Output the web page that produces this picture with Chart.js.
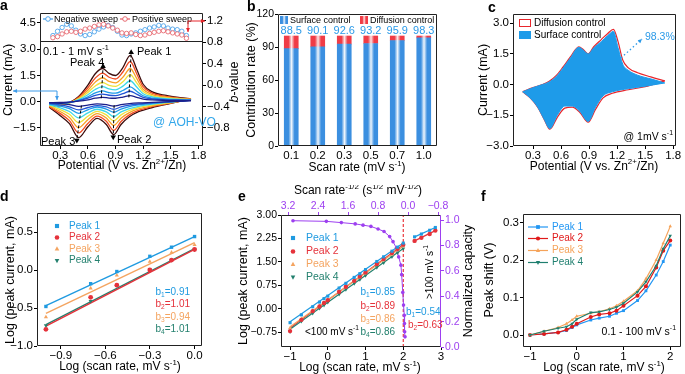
<!DOCTYPE html>
<html>
<head>
<meta charset="utf-8">
<script src="https://cdn.jsdelivr.net/npm/chart.js@4.4.1/dist/chart.umd.min.js"></script>
<style>
  html, body { margin: 0; padding: 0; background: #fff; }
  #wrap { position: relative; width: 685px; height: 374px; overflow: hidden; background: #fff; }
  canvas { position: absolute; }
</style>
</head>
<body>
<div id="wrap">
  <canvas id="cA"></canvas>
  <canvas id="cB"></canvas>
  <canvas id="cC"></canvas>
  <canvas id="cD"></canvas>
  <canvas id="cE"></canvas>
  <canvas id="cF"></canvas>
</div>
<script>
/* -----------------------------
    DATA
------------------------------ */
// panel a: CV curves 0.1 - 1 mV/s (inner -> outer)
const cvColors = ['#1b1f8a', '#2255d6', '#1e9be8', '#3fd8e6', '#eee23a', '#f8a024', '#f04a23', '#3b0b0b'];
const aV = [0.18, 0.3, 0.4, 0.5, 0.6, 0.68, 0.76, 0.83, 0.9, 0.98, 1.06, 1.13, 1.2, 1.3, 1.45, 1.6, 1.72];
const cV = [0.18, 0.3, 0.4, 0.5, 0.6, 0.7, 0.8, 0.88, 0.96, 1.05, 1.15, 1.3, 1.5, 1.72];
const upNavy   = [-0.05, -0.04, -0.02, 0.03, 0.11, 0.2, 0.25, 0.21, 0.2, 0.26, 0.35, 0.25, 0.15, 0.1, 0.08, 0.07, 0.06];
const upBlue   = [-0.09, -0.06, -0.03, 0.06, 0.2, 0.36, 0.44, 0.37, 0.35, 0.46, 0.6, 0.43, 0.25, 0.16, 0.11, 0.09, 0.08];
const upLBlue  = [-0.12, -0.08, -0.04, 0.08, 0.28, 0.5, 0.62, 0.52, 0.49, 0.64, 0.85, 0.6, 0.34, 0.21, 0.14, 0.11, 0.09];
const upCyan   = [-0.16, -0.11, -0.05, 0.12, 0.4, 0.7, 0.86, 0.73, 0.68, 0.89, 1.2, 0.84, 0.46, 0.28, 0.18, 0.14, 0.11];
const upYellow = [-0.2, -0.14, -0.06, 0.16, 0.53, 0.9, 1.1, 0.94, 0.88, 1.14, 1.55, 1.08, 0.58, 0.34, 0.22, 0.16, 0.13];
const upOrange = [-0.24, -0.17, -0.07, 0.2, 0.66, 1.12, 1.37, 1.16, 1.08, 1.4, 1.9, 1.33, 0.71, 0.41, 0.26, 0.18, 0.14];
const upRed    = [-0.28, -0.2, -0.07, 0.25, 0.8, 1.35, 1.64, 1.4, 1.3, 1.7, 2.3, 1.6, 0.86, 0.49, 0.31, 0.21, 0.15];
const upBrown  = [-0.32, -0.22, -0.05, 0.3, 0.95, 1.6, 1.9, 1.62, 1.5, 1.95, 2.65, 1.85, 1.0, 0.56, 0.36, 0.24, 0.17];
const dnNavy   = [-0.05, -0.1, -0.16, -0.27, -0.19, -0.12, -0.17, -0.25, -0.17, -0.11, -0.07, -0.04, 0.0, 0.06];
const dnBlue   = [-0.09, -0.18, -0.29, -0.47, -0.33, -0.22, -0.3, -0.43, -0.3, -0.2, -0.13, -0.07, 0.0, 0.08];
const dnLBlue  = [-0.12, -0.25, -0.4, -0.66, -0.46, -0.3, -0.42, -0.6, -0.42, -0.28, -0.18, -0.1, -0.01, 0.09];
const dnCyan   = [-0.16, -0.35, -0.56, -0.92, -0.64, -0.43, -0.58, -0.85, -0.58, -0.39, -0.26, -0.14, -0.02, 0.11];
const dnYellow = [-0.2, -0.45, -0.72, -1.19, -0.83, -0.55, -0.75, -1.09, -0.75, -0.5, -0.33, -0.18, -0.04, 0.13];
const dnOrange = [-0.24, -0.56, -0.9, -1.48, -1.03, -0.68, -0.93, -1.35, -0.94, -0.62, -0.41, -0.23, -0.06, 0.14];
const dnRed    = [-0.28, -0.68, -1.08, -1.78, -1.24, -0.82, -1.12, -1.64, -1.13, -0.75, -0.5, -0.28, -0.08, 0.15];
const dnBrown  = [-0.32, -0.8, -1.25, -2.05, -1.43, -0.95, -1.3, -1.88, -1.3, -0.86, -0.57, -0.33, -0.1, 0.17];
const cvUp = [upNavy, upBlue, upLBlue, upCyan, upYellow, upOrange, upRed, upBrown];
const cvDn = [dnNavy, dnBlue, dnLBlue, dnCyan, dnYellow, dnOrange, dnRed, dnBrown];
// peak trend lines
const pk1V = [1.045, 1.07], pk1I = [0.25, 2.82];
const pk4V = [0.745, 0.765], pk4I = [0.2, 2.02];
const pk2V = [0.885, 0.875], pk2I = [-0.2, -2.02];
const pk3V = [0.53, 0.48], pk3I = [-0.22, -2.2];
// b-values
const bV   = [0.22, 0.27, 0.32, 0.37, 0.42, 0.47, 0.52, 0.57, 0.62, 0.67, 0.72, 0.77, 0.82, 0.87, 0.92, 0.97, 1.02, 1.07, 1.12, 1.17, 1.22, 1.27, 1.32, 1.37, 1.42, 1.47, 1.52, 1.57, 1.62, 1.67];
const bNeg = [0.92, 1.0, 1.07, 1.13, 1.1, 1.02, 0.95, 0.92, 0.94, 0.99, 1.04, 1.08, 1.11, 1.07, 1.0, 0.93, 0.92, 0.95, 0.97, 1.0, 1.03, 1.06, 1.08, 1.11, 1.1, 1.06, 1.04, 1.03, 1.0, 0.92];
const bPos = [0.88, 0.9, 0.95, 0.99, 1.0, 0.98, 1.0, 1.04, 1.06, 1.09, 1.12, 1.13, 1.1, 1.06, 1.02, 0.97, 0.96, 0.97, 0.94, 0.92, 0.93, 0.96, 0.98, 1.0, 1.01, 0.99, 0.97, 0.95, 0.93, 0.87];
const aXTicks = [0.3, 0.6, 0.9, 1.2, 1.5, 1.8];
const aYTicks = [-1.5, 0, 1.5, 3.0, 4.5];
const aY1Ticks = [-0.8, -0.4, 0, 0.4, 0.8, 1.2];

// panel b
const scanRates = ['0.1', '0.2', '0.3', '0.5', '0.7', '1.0'];
const surfacePct = [88.5, 90.1, 92.6, 93.2, 95.9, 98.3];
const diffusionPct = [11.5, 9.9, 7.4, 6.8, 4.1, 1.7];
const bYTicks = [0, 30, 60, 90, 120];

// panel c: 1 mV/s
const cUpV = [0.19, 0.3, 0.4, 0.47, 0.55, 0.62, 0.7, 0.79, 0.84, 0.89, 0.95, 1.03, 1.1, 1.16, 1.21, 1.26, 1.32, 1.42, 1.56, 1.71];
const totUp = [-0.35, -0.15, 0.0, 0.15, 0.45, 0.85, 1.35, 1.85, 1.7, 1.5, 1.85, 2.2, 2.5, 2.7, 2.1, 1.2, 0.82, 0.58, 0.38, 0.18];
const surfUp = [-0.35, -0.15, 0.0, 0.12, 0.4, 0.8, 1.3, 1.82, 1.68, 1.5, 1.8, 2.1, 2.4, 2.6, 1.8, 1.0, 0.7, 0.46, 0.28, 0.08];
const cDnV = [0.19, 0.27, 0.35, 0.42, 0.48, 0.56, 0.64, 0.72, 0.8, 0.89, 0.97, 1.05, 1.15, 1.32, 1.5, 1.71];
const totDn = [-0.35, -0.65, -1.1, -1.7, -2.18, -1.6, -1.15, -1.1, -1.35, -1.84, -1.2, -0.65, -0.42, -0.25, -0.1, 0.18];
const surfDn = [-0.35, -0.65, -1.1, -1.7, -2.15, -1.5, -1.05, -1.05, -1.3, -1.8, -1.1, -0.55, -0.35, -0.2, -0.08, 0.08];
const cYTicks = [-3.0, -1.5, 0, 1.5, 3.0];

// panel d
const dLogV = [-1, -0.699, -0.523, -0.301, -0.155, 0];
const dP1 = [-0.48, -0.18, -0.02, 0.18, 0.30, 0.44];
const dP2 = [-0.78, -0.36, -0.20, 0.0, 0.13, 0.27];
const dP3 = [-0.62, -0.24, -0.07, 0.11, 0.23, 0.33];
const dP4 = [-0.73, -0.41, -0.20, 0.0, 0.13, 0.27];
const dFitV = [-1, 0];
const dFit1 = [-0.47, 0.44], dFit2 = [-0.74, 0.27], dFit3 = [-0.57, 0.36], dFit4 = [-0.72, 0.28];
const dBText = ['b_{1}=0.91', 'b_{2}=1.01', 'b_{3}=0.94', 'b_{4}=1.01'];
const dXTicks = [-0.9, -0.6, -0.3, 0];
const dYTicks = [-1.0, -0.5, 0, 0.5];

// panel e
const eLogV = [-1, -0.7, -0.4, -0.22, -0.1, 0, 0.3, 0.48, 0.7, 0.85, 1, 1.3, 1.48, 1.7, 1.85, 2];
const eP1 = [-0.45, -0.2, 0.06, 0.21, 0.32, 0.40, 0.66, 0.81, 1.0, 1.12, 1.25, 1.51, 1.66, 1.84, 1.97, 2.1];
const eP2 = [-0.72, -0.36, -0.08, 0.07, 0.18, 0.27, 0.54, 0.7, 0.89, 1.03, 1.16, 1.43, 1.59, 1.78, 1.92, 2.05];
const eP3 = [-0.62, -0.32, -0.06, 0.09, 0.19, 0.28, 0.54, 0.69, 0.88, 1.01, 1.14, 1.4, 1.55, 1.74, 1.87, 2.0];
const eP4 = [-0.74, -0.41, -0.15, 0.01, 0.11, 0.2, 0.46, 0.61, 0.8, 0.93, 1.06, 1.32, 1.47, 1.66, 1.79, 1.92];
const eFitV = [-1, 2];
const eFit1 = [-0.42, 2.1], eFit2 = [-0.62, 2.05], eFit3 = [-0.58, 2.0], eFit4 = [-0.66, 1.93];
const eHiV = [2.3, 2.48, 2.7, 2.85];
const eHi1 = [2.3, 2.39, 2.51, 2.6];
const eHi2 = [2.17, 2.27, 2.39, 2.5];
const eHiFitV = [2.3, 2.85], eHiFit1 = [2.3, 2.6], eHiFit2 = [2.17, 2.5];
const capInvSqrt = [3.07, 2.18, 1.78, 1.41, 1.2, 0.99, 0.8, 0.64, 0.49, 0.4, 0.31, 0.25, 0.19, 0.17, 0.14, 0.12, 0.1, 0.095, 0.09, 0.08];
const capNorm = [0.995, 0.99, 0.98, 0.97, 0.96, 0.95, 0.93, 0.91, 0.87, 0.83, 0.78, 0.71, 0.645, 0.57, 0.43, 0.33, 0.25, 0.185, 0.12, 0.08];
const eBText = ['b_{1}=0.85', 'b_{2}=0.89', 'b_{3}=0.86', 'b_{4}=0.86'];
const eXTicks = [-1, 0, 1, 2, 3];
const eX2Ticks = [3.2, 2.4, 1.6, 0.8, 0, -0.8];
const eYTicks = [-0.75, 0, 0.75, 1.5, 2.25, 3.0];
const eY1Ticks = [0, 0.2, 0.4, 0.6, 0.8, 1.0];

// panel f
const fLogV = [-1, -0.7, -0.4, -0.22, -0.1, 0, 0.3, 0.48, 0.7, 0.85, 1, 1.3, 1.48, 1.7, 1.85, 2];
const fP1 = [0, 0.003, 0.007, 0.012, 0.02, 0.027, 0.04, 0.045, 0.05, 0.058, 0.065, 0.092, 0.118, 0.16, 0.196, 0.24];
const fP2 = [0, 0.003, 0.007, 0.014, 0.022, 0.03, 0.048, 0.055, 0.058, 0.065, 0.078, 0.105, 0.13, 0.18, 0.225, 0.252];
const fP3 = [0, 0.01, 0.02, 0.03, 0.04, 0.05, 0.058, 0.062, 0.07, 0.078, 0.09, 0.118, 0.15, 0.2, 0.245, 0.29];
const fP4 = [0, 0.01, 0.018, 0.022, 0.03, 0.042, 0.06, 0.062, 0.068, 0.074, 0.085, 0.115, 0.142, 0.185, 0.23, 0.265];
const fXTicks = [-1, 0, 1, 2];
const fYTicks = [0, 0.1, 0.2, 0.3];

const peakNames = ['Peak 1', 'Peak 2', 'Peak 3', 'Peak 4'];
const peakColors = ['#1f9ae0', '#e5323b', '#f4a460', '#23806e'];
const peakShapes = ['rect', 'circle', 'tri', 'tridown'];

/* -----------------------------
    HELPERS
------------------------------ */
const FONT = "'Liberation Sans', Arial, Helvetica, sans-serif";
const MINUS = '\u2212';
const BLUE_TXT = '#2b9ae8';
const PURPLE = '#9d3ff0';
Chart.defaults.font.family = FONT;
Chart.defaults.color = '#000';
Chart.defaults.animation = false;

function pts(xs, ys) { return xs.map((x, i) => ({ x: x, y: ys[i] })); }

function fmt(d) {
  return v => (Math.abs(v) < 1e-9 ? (0).toFixed(d) : Number(v).toFixed(d)).replace('-', MINUS);
}

function linAxis(o) {
  const horiz = o.position === 'top' || o.position === 'bottom';
  const col = o.color || '#000';
  return {
    type: 'linear', position: o.position, min: o.min, max: o.max, reverse: !!o.reverse, stacked: !!o.stacked,
    afterBuildTicks: s => { s.ticks = o.ticks.map(v => ({ value: v })); },
    afterFit: s => { if (horiz) s.height = o.size; else s.width = o.size; },
    ticks: { callback: fmt(o.dec), font: { size: o.font || 11 }, color: col, padding: horiz ? 0 : 1, autoSkip: false, maxRotation: 0 },
    grid: { drawOnChartArea: false, tickLength: 3, color: col, tickColor: col },
    border: { display: false }
  };
}

function parseRich(s) {
  const re = /\^\{([^}]*)\}|_\{([^}]*)\}|~\{([^}]*)\}|([^^_~]+)/g;
  const out = [];
  let m;
  while ((m = re.exec(s))) {
    if (m[1] !== undefined) out.push({ t: m[1], k: 'sup' });
    else if (m[2] !== undefined) out.push({ t: m[2], k: 'sub' });
    else if (m[3] !== undefined) out.push({ t: m[3], k: 'it' });
    else out.push({ t: m[4], k: 'n' });
  }
  return out;
}

function fontFor(k, size, bold) {
  const sz = (k === 'sup' || k === 'sub') ? size * 0.66 : size;
  return (k === 'it' ? 'italic ' : '') + (bold ? 'bold ' : '') + sz.toFixed(1) + 'px ' + FONT;
}

function drawRich(ctx, s, x, y, o) {
  const size = o.size || 11;
  const parts = parseRich(s);
  let w = 0;
  parts.forEach(p => { ctx.font = fontFor(p.k, size, o.bold); p.w = ctx.measureText(p.t).width; w += p.w; });
  let cx = o.align === 'right' ? -w : (o.align === 'center' ? -w / 2 : 0);
  ctx.save();
  ctx.translate(x, y);
  if (o.rot) ctx.rotate(o.rot);
  ctx.textBaseline = 'middle';
  ctx.textAlign = 'left';
  ctx.fillStyle = o.color || '#000';
  parts.forEach(p => {
    ctx.font = fontFor(p.k, size, o.bold);
    const dy = p.k === 'sup' ? -size * 0.36 : (p.k === 'sub' ? size * 0.3 : 0);
    ctx.fillText(p.t, cx, dy);
    cx += p.w;
  });
  ctx.restore();
}

function arrowHead(ctx, x1, y1, x2, y2, col, L) {
  const a = Math.atan2(y2 - y1, x2 - x1);
  L = L || 5;
  ctx.beginPath();
  ctx.moveTo(x2, y2);
  ctx.lineTo(x2 - L * Math.cos(a - 0.45), y2 - L * Math.sin(a - 0.45));
  ctx.lineTo(x2 - L * Math.cos(a + 0.45), y2 - L * Math.sin(a + 0.45));
  ctx.closePath();
  ctx.fillStyle = col;
  ctx.fill();
}

function marker(ctx, st, x, y, r, col, hollow) {
  ctx.beginPath();
  if (st === 'rect') ctx.rect(x - r * 0.9, y - r * 0.9, r * 1.8, r * 1.8);
  else if (st === 'circle') ctx.arc(x, y, r, 0, Math.PI * 2);
  else if (st === 'tri') { ctx.moveTo(x, y - r * 1.15); ctx.lineTo(x + r, y + r * 0.7); ctx.lineTo(x - r, y + r * 0.7); ctx.closePath(); }
  else { ctx.moveTo(x, y + r * 1.15); ctx.lineTo(x + r, y - r * 0.7); ctx.lineTo(x - r, y - r * 0.7); ctx.closePath(); }
  if (hollow) { ctx.fillStyle = '#fff'; ctx.fill(); ctx.lineWidth = 0.9; ctx.strokeStyle = col; ctx.stroke(); }
  else { ctx.fillStyle = col; ctx.fill(); }
}

function stripeGrad(ctx, x0, w, edge, mid) {
  const g = ctx.createLinearGradient(x0, 0, x0 + w, 0);
  g.addColorStop(0, edge); g.addColorStop(0.3, edge); g.addColorStop(0.52, mid); g.addColorStop(0.74, edge); g.addColorStop(1, edge);
  return g;
}

function drawItem(ctx, it, ox, oy, chart) {
  const X = v => v - ox, Y = v => v - oy;
  if (it.t === 'text') {
    drawRich(ctx, it.s, X(it.x), Y(it.y), it);
  } else if (it.t === 'line') {
    ctx.save();
    ctx.strokeStyle = it.color; ctx.lineWidth = it.w || 1; ctx.setLineDash(it.dash || []);
    ctx.beginPath();
    it.pts.forEach((p, i) => i ? ctx.lineTo(X(p[0]), Y(p[1])) : ctx.moveTo(X(p[0]), Y(p[1])));
    ctx.stroke();
    ctx.restore();
    const n = it.pts.length;
    if (it.head === 'end' || it.head === 'both') arrowHead(ctx, X(it.pts[n - 2][0]), Y(it.pts[n - 2][1]), X(it.pts[n - 1][0]), Y(it.pts[n - 1][1]), it.color, it.hl);
    if (it.head === 'start' || it.head === 'both') arrowHead(ctx, X(it.pts[1][0]), Y(it.pts[1][1]), X(it.pts[0][0]), Y(it.pts[0][1]), it.color, it.hl);
  } else if (it.t === 'mark') {
    if (it.ln) {
      ctx.beginPath(); ctx.strokeStyle = it.color; ctx.lineWidth = 1.2;
      ctx.moveTo(X(it.x - it.ln), Y(it.y)); ctx.lineTo(X(it.x + it.ln), Y(it.y)); ctx.stroke();
    }
    marker(ctx, it.shape, X(it.x), Y(it.y), it.r || 2.3, it.color, it.hollow);
  } else if (it.t === 'box') {
    if (it.fill) { ctx.fillStyle = it.fill; ctx.fillRect(X(it.x), Y(it.y), it.w, it.h); }
    if (it.stroke) { ctx.strokeStyle = it.stroke; ctx.lineWidth = 1; ctx.strokeRect(X(it.x) + 0.5, Y(it.y) + 0.5, it.w - 1, it.h - 1); }
  } else if (it.t === 'grad') {
    ctx.fillStyle = stripeGrad(ctx, X(it.x), it.w, it.edge, it.mid);
    ctx.fillRect(X(it.x), Y(it.y), it.w, it.h);
  } else if (it.t === 'hline') {
    const a = chart.chartArea;
    const y = Math.round(chart.scales[it.axis].getPixelForValue(it.v)) + 0.5;
    ctx.beginPath(); ctx.strokeStyle = it.color; ctx.lineWidth = 1;
    ctx.moveTo(a.left, y); ctx.lineTo(a.right, y); ctx.stroke();
  }
}

function deco(ox, oy, items, frame) {
  return {
    id: 'deco',
    afterDraw(chart) {
      const ctx = chart.ctx, a = chart.chartArea;
      const fc = Object.assign({ top: '#222', right: '#222', bottom: '#222', left: '#222' }, frame || {});
      const L = Math.round(a.left) + 0.5, R = Math.round(a.right) - 0.5, T = Math.round(a.top) + 0.5, B = Math.round(a.bottom) - 0.5;
      ctx.save();
      ctx.lineWidth = 1;
      [[L, T, R, T, fc.top], [R, T, R, B, fc.right], [L, B, R, B, fc.bottom], [L, T, L, B, fc.left]].forEach(s => {
        ctx.beginPath(); ctx.strokeStyle = s[4]; ctx.moveTo(s[0], s[1]); ctx.lineTo(s[2], s[3]); ctx.stroke();
      });
      items.forEach(it => drawItem(ctx, it, ox, oy, chart));
      ctx.restore();
    }
  };
}

function make(id, box, type, data, scales, pad, items, frame, extra) {
  const cv = document.getElementById(id);
  cv.width = box[2]; cv.height = box[3];
  cv.style.left = box[0] + 'px'; cv.style.top = box[1] + 'px';
  return new Chart(cv, {
    type: type,
    data: data,
    options: {
      responsive: false, animation: false, devicePixelRatio: 1,
      layout: { padding: pad },
      scales: scales,
      plugins: { legend: { display: false }, tooltip: { enabled: false } }
    },
    plugins: [deco(box[0], box[1], items, frame)].concat(extra || [])
  });
}

function lineDs(xs, ys, col, extra) {
  return Object.assign({ data: pts(xs, ys), showLine: true, borderColor: col, borderWidth: 1.2, pointRadius: 0, fill: false }, extra || {});
}

function markDs(xs, ys, i, r) {
  return {
    data: pts(xs, ys), showLine: false, pointRadius: r || 2.4,
    pointStyle: peakShapes[i] === 'rect' ? 'rect' : (peakShapes[i] === 'circle' ? 'circle' : 'triangle'),
    pointRotation: peakShapes[i] === 'tridown' ? 180 : 0,
    pointBackgroundColor: peakColors[i], pointBorderColor: peakColors[i], pointBorderWidth: 0
  };
}

const ROT = -Math.PI / 2;
const TICK_BIG = 11.5, TICK_SMALL = 10.5, TITLE = 12.5;

/* -----------------------------
    a. CV + b-value
------------------------------ */
const dsA = [];
cvUp.forEach((ys, i) => {
  dsA.push(lineDs(aV, ys, cvColors[i], { cubicInterpolationMode: 'monotone', borderWidth: 1.3 }));
  dsA.push(lineDs(cV, cvDn[i], cvColors[i], { cubicInterpolationMode: 'monotone', borderWidth: 1.3 }));
});
[[pk1V, pk1I, 0], [pk4V, pk4I, 0], [pk2V, pk2I, 180], [pk3V, pk3I, 180]].forEach(p => {
  dsA.unshift(lineDs(p[0], p[1], '#000', {
    borderWidth: 1, borderDash: [3, 2], pointRadius: [0, 3.2], pointStyle: 'triangle',
    pointRotation: p[2], pointBackgroundColor: '#000', pointBorderColor: '#000', pointBorderWidth: 0
  }));
});
dsA.unshift(lineDs(bV, bNeg, '#3d9be9', { yAxisID: 'y1', borderWidth: 0.8, pointRadius: 2.2, pointBackgroundColor: '#fff', pointBorderColor: '#3d9be9', pointBorderWidth: 0.8 }));
dsA.unshift(lineDs(bV, bPos, '#e55b63', { yAxisID: 'y1', borderWidth: 0.8, pointRadius: 2.2, pointBackgroundColor: '#fff', pointBorderColor: '#e55b63', pointBorderWidth: 0.8 }));

make('cA', [0, 0, 242, 183], 'scatter', { datasets: dsA }, {
  x: linAxis({ position: 'bottom', min: 0.08, max: 1.85, ticks: aXTicks, dec: 1, size: 20, font: TICK_BIG }),
  y: linAxis({ position: 'left', min: -2.53, max: 5.07, ticks: aYTicks, dec: 1, size: 30, font: TICK_BIG }),
  y1: linAxis({ position: 'right', min: -1.135, max: 1.34, ticks: aY1Ticks, dec: 1, size: 30, font: TICK_BIG })
}, { left: 10, right: 9, top: 13, bottom: 17 }, [
  { t: 'hline', axis: 'y', v: 3.46, color: '#222' },
  { t: 'text', x: 0, y: 6, s: 'a', size: 14, bold: true },
  { t: 'mark', x: 48, y: 19, shape: 'circle', color: '#3d9be9', hollow: true, r: 2.3, ln: 5 },
  { t: 'text', x: 54, y: 19.5, s: 'Negative sweep', size: 9 },
  { t: 'mark', x: 125, y: 19, shape: 'circle', color: '#e55b63', hollow: true, r: 2.3, ln: 5 },
  { t: 'text', x: 132, y: 19.5, s: 'Positive sweep', size: 9 },
  { t: 'text', x: 43, y: 52, s: '0.1 - 1 mV s^{-1}', size: 11 },
  { t: 'text', x: 137, y: 52, s: 'Peak 1', size: 11 },
  { t: 'text', x: 70, y: 63, s: 'Peak 4', size: 11 },
  { t: 'text', x: 41, y: 142, s: 'Peak 3', size: 11 },
  { t: 'text', x: 117, y: 140, s: 'Peak 2', size: 11 },
  { t: 'text', x: 153, y: 123, s: '@ AOH-VO', size: 12, color: '#33a7ea' },
  { t: 'line', pts: [[13, 91], [57, 91], [57, 100]], color: '#3d9be9', head: 'both', hl: 4.5 },
  { t: 'line', pts: [[188, 32], [188, 21], [205, 21]], color: '#e8262c', head: 'both', hl: 4.5 },
  { t: 'text', x: 9, y: 80, s: 'Current (mA)', size: TITLE, align: 'center', rot: ROT },
  { t: 'text', x: 235, y: 82, s: '~{b}-value', size: TITLE, align: 'center', rot: ROT },
  { t: 'text', x: 122, y: 166, s: 'Potential (V vs. Zn^{2+}/Zn)', size: 12, align: 'center' }
]);

/* -----------------------------
    b. contribution bars
------------------------------ */
function stripe(edge, mid, half) {
  return c => {
    const ch = c.chart;
    if (c.type !== 'data' || !ch.chartArea) return edge;
    const cx = ch.scales.x.getPixelForValue(c.dataIndex);
    return stripeGrad(ch.ctx, cx - half, half * 2, edge, mid);
  };
}
const barLabels = {
  id: 'barLabels',
  afterDatasetsDraw(chart) {
    const xs = chart.scales.x, ys = chart.scales.y;
    surfacePct.forEach((v, i) => drawRich(chart.ctx, v.toFixed(1), xs.getPixelForValue(i), ys.getPixelForValue(104.5), { size: 11, color: BLUE_TXT, align: 'center' }));
  }
};
const bY = linAxis({ position: 'left', min: 0, max: 120, ticks: bYTicks, dec: 0, size: 24, font: TICK_SMALL, stacked: true });
make('cB', [232, 0, 224, 183], 'bar', {
  labels: scanRates,
  datasets: [
    { label: 'Surface control', data: surfacePct, backgroundColor: stripe('#3b8fe0', '#eef5fc', 7), barThickness: 14, borderWidth: 0 },
    { label: 'Diffusion control', data: diffusionPct, backgroundColor: stripe('#f03c46', '#fde6e7', 7), barThickness: 14, borderWidth: 0 }
  ]
}, {
  x: {
    type: 'category', stacked: true,
    afterFit: s => { s.height = 20; },
    ticks: { font: { size: TICK_BIG }, color: '#000', padding: 0, autoSkip: false, maxRotation: 0 },
    grid: { drawOnChartArea: false, offset: false, tickLength: 3, color: '#000' },
    border: { display: false }
  },
  y: bY
}, { left: 22, right: 19, top: 14, bottom: 17 }, [
  { t: 'text', x: 247, y: 7, s: 'b', size: 14, bold: true },
  { t: 'grad', x: 280, y: 16, w: 8, h: 8, edge: '#3b8fe0', mid: '#eef5fc' },
  { t: 'text', x: 290, y: 20.5, s: 'Surface control', size: 9 },
  { t: 'grad', x: 360, y: 16, w: 8, h: 8, edge: '#f03c46', mid: '#fde6e7' },
  { t: 'text', x: 370, y: 20.5, s: 'Diffusion control', size: 9 },
  { t: 'text', x: 252, y: 80, s: 'Contribution rate (%)', size: TITLE, align: 'center', rot: ROT },
  { t: 'text', x: 357, y: 168, s: 'Scan rate (mV s^{-1})', size: 12, align: 'center' }
], null, [barLabels]);

/* -----------------------------
    c. capacitive separation
------------------------------ */
make('cC', [456, 0, 229, 183], 'scatter', {
  datasets: [
    lineDs(cUpV, surfUp, '#1e9be9', { cubicInterpolationMode: 'monotone', fill: '+1', backgroundColor: '#1e9be9', borderWidth: 1 }),
    lineDs(cDnV, surfDn, '#1e9be9', { cubicInterpolationMode: 'monotone', borderWidth: 1 }),
    lineDs(cUpV, totUp, '#e8262c', { cubicInterpolationMode: 'monotone', borderWidth: 1.2 }),
    lineDs(cDnV, totDn, '#e8262c', { cubicInterpolationMode: 'monotone', borderWidth: 1.2 })
  ]
}, {
  x: linAxis({ position: 'bottom', min: 0.086, max: 1.83, ticks: aXTicks, dec: 1, size: 20, font: TICK_BIG }),
  y: linAxis({ position: 'left', min: -3.0, max: 3.45, ticks: cYTicks, dec: 1, size: 30, font: TICK_BIG })
}, { left: 27, right: 9, top: 14, bottom: 17 }, [
  { t: 'text', x: 488, y: 8, s: 'c', size: 14, bold: true },
  { t: 'box', x: 519, y: 19, w: 12, h: 8, fill: '#fff', stroke: '#e8262c' },
  { t: 'text', x: 534, y: 23, s: 'Diffusion control', size: 10 },
  { t: 'box', x: 519, y: 31, w: 12, h: 8, fill: '#1e9be9' },
  { t: 'text', x: 534, y: 35, s: 'Surface control', size: 10 },
  { t: 'text', x: 645, y: 37, s: '98.3%', size: 10.5, color: BLUE_TXT },
  { t: 'line', pts: [[621, 58], [642, 39]], color: BLUE_TXT, dash: [1.5, 2.5], w: 1.3, head: 'end', hl: 4.5 },
  { t: 'text', x: 673, y: 137, s: '@ 1mV s^{-1}', size: 10.5, align: 'right' },
  { t: 'text', x: 484, y: 80, s: 'Current (mA)', size: TITLE, align: 'center', rot: ROT },
  { t: 'text', x: 594, y: 166.5, s: 'Potential (V vs. Zn^{2+}/Zn)', size: 12, align: 'center' }
]);

/* -----------------------------
    d. log i vs log v (0.1 - 1)
------------------------------ */
const dPeaks = [dP1, dP2, dP3, dP4];
const dFits = [dFit1, dFit2, dFit3, dFit4];
const dsD = dPeaks.map((ys, i) => markDs(dLogV, ys, i, 2.4));
[1, 3, 2, 0].forEach(i => dsD.push(lineDs(dFitV, dFits[i], peakColors[i], { borderWidth: 1.4 })));
const itemsD = [
  { t: 'text', x: 0, y: 197, s: 'd', size: 14, bold: true },
  { t: 'text', x: 11, y: 280, s: 'Log (peak current, mA)', size: TITLE, align: 'center', rot: ROT },
  { t: 'text', x: 120, y: 367, s: 'Log (scan rate, mV s^{-1})', size: 12, align: 'center' }
];
const dRows = [226, 237.5, 249, 260.5], dBRows = [292, 304.5, 317, 329.5];
peakNames.forEach((n, i) => {
  itemsD.push({ t: 'mark', x: 57, y: dRows[i], shape: peakShapes[i], color: peakColors[i], r: 2.3 });
  itemsD.push({ t: 'text', x: 69, y: dRows[i], s: n, size: 10, color: peakColors[i] });
  itemsD.push({ t: 'text', x: 190, y: dBRows[i], s: dBText[i], size: 10, color: peakColors[i], align: 'right' });
});
make('cD', [0, 185, 228, 189], 'scatter', { datasets: dsD }, {
  x: linAxis({ position: 'bottom', min: -1.06, max: 0.05, ticks: dXTicks, dec: 1, size: 18, font: TICK_BIG }),
  y: linAxis({ position: 'left', min: -1.0, max: 0.75, ticks: dYTicks, dec: 1, size: 28, font: TICK_BIG })
}, { left: 9, right: 26, top: 28, bottom: 10 }, itemsD);

/* -----------------------------
    e. log i vs log v (0.1 - 1000) + normalized capacity
------------------------------ */
const ePeaks = [eP1, eP2, eP3, eP4];
const eFits = [eFit1, eFit2, eFit3, eFit4];
const dsE = [];
ePeaks.forEach((ys, i) => dsE.push(markDs(eLogV, ys, i, 2.2)));
dsE.push(markDs(eHiV, eHi1, 0, 2.2));
dsE.push(markDs(eHiV, eHi2, 1, 2.2));
[3, 2, 1, 0].forEach(i => dsE.push(lineDs(eFitV, eFits[i], peakColors[i], { borderWidth: 1.2 })));
dsE.push(lineDs(eHiFitV, eHiFit2, peakColors[1], { borderWidth: 1.2 }));
dsE.push(lineDs(eHiFitV, eHiFit1, peakColors[0], { borderWidth: 1.2 }));
dsE.push(lineDs(capInvSqrt, capNorm, PURPLE, { xAxisID: 'x2', yAxisID: 'y1', borderWidth: 1, pointRadius: 1.8, pointBackgroundColor: PURPLE, pointBorderWidth: 0 }));
dsE.push(lineDs([2, 2], [-1.23, 3.0], '#e8262c', { borderWidth: 1.1, borderDash: [3, 2] }));
const itemsE = [
  { t: 'text', x: 238, y: 197, s: 'e', size: 14, bold: true },
  { t: 'text', x: 358, y: 191, s: 'Scan rate^{-1/2} (s^{1/2} mV^{-1/2})', size: 12, align: 'center' },
  { t: 'text', x: 305, y: 332, s: '<100 mV s^{-1}', size: 10 },
  { t: 'text', x: 406, y: 312, s: 'b_{1}=0.54', size: 10, color: peakColors[0] },
  { t: 'text', x: 408, y: 325, s: 'b_{2}=0.63', size: 10, color: peakColors[1] },
  { t: 'text', x: 430, y: 272, s: '>100 mV s^{-1}', size: 10, align: 'center', rot: ROT },
  { t: 'text', x: 244, y: 281, s: 'Log (peak current, mA)', size: TITLE, align: 'center', rot: ROT },
  { t: 'text', x: 469, y: 281, s: 'Normalized capacity', size: TITLE, align: 'center', rot: ROT },
  { t: 'text', x: 360, y: 368, s: 'Log (scan rate, mV s^{-1})', size: 12, align: 'center' }
];
const eRows = [238, 251.5, 264.5, 277], eBRows = [292.5, 306, 319, 332];
peakNames.forEach((n, i) => {
  itemsE.push({ t: 'mark', x: 293, y: eRows[i], shape: peakShapes[i], color: peakColors[i], r: 2.3 });
  itemsE.push({ t: 'text', x: 306, y: eRows[i], s: n, size: 10.5, color: peakColors[i] });
  itemsE.push({ t: 'text', x: 395, y: eBRows[i], s: eBText[i], size: 10, color: peakColors[i], align: 'right' });
});
make('cE', [228, 185, 252, 189], 'scatter', { datasets: dsE }, {
  x: linAxis({ position: 'bottom', min: -1.24, max: 3.0, ticks: eXTicks, dec: 0, size: 18, font: TICK_BIG }),
  x2: linAxis({ position: 'top', min: -0.88, max: 3.39, reverse: true, ticks: eX2Ticks, dec: 1, size: 16, font: TICK_SMALL, color: PURPLE }),
  y: linAxis({ position: 'left', min: -1.23, max: 3.0, ticks: eYTicks, dec: 2, size: 30, font: TICK_SMALL }),
  y1: linAxis({ position: 'right', min: 0, max: 1.04, ticks: eY1Ticks, dec: 1, size: 24, font: TICK_SMALL, color: PURPLE })
}, { left: 23, right: 15, top: 14, bottom: 9 }, itemsE, { right: PURPLE });

/* -----------------------------
    f. peak shift
------------------------------ */
const fPeaks = [fP1, fP2, fP3, fP4];
const fColors = ['#2196f3', '#e01a1a', '#f5a35a', '#1f7f6f'];
const dsF = fPeaks.map((ys, i) => Object.assign(markDs(fLogV, ys, i, 2), {
  showLine: true, borderColor: fColors[i], borderWidth: 1.2, pointBackgroundColor: fColors[i], pointBorderColor: fColors[i]
})).reverse();
const itemsF = [
  { t: 'text', x: 481, y: 197, s: 'f', size: 14, bold: true },
  { t: 'text', x: 676, y: 332, s: '0.1 - 100 mV s^{-1}', size: 10.5, align: 'right' },
  { t: 'text', x: 490, y: 280, s: 'Peak shift (V)', size: TITLE, align: 'center', rot: ROT },
  { t: 'text', x: 604, y: 368, s: 'Log (scan rate, mV s^{-1})', size: 12, align: 'center' }
];
const fRows = [227, 238.5, 250.5, 262.5];
peakNames.forEach((n, i) => {
  itemsF.push({ t: 'mark', x: 538, y: fRows[i], shape: peakShapes[i], color: fColors[i], r: 2.1, ln: 10 });
  itemsF.push({ t: 'text', x: 552, y: fRows[i], s: n, size: 10, color: fColors[i] });
});
make('cF', [470, 185, 215, 189], 'scatter', { datasets: dsF }, {
  x: linAxis({ position: 'bottom', min: -1.15, max: 2.23, ticks: fXTicks, dec: 0, size: 18, font: TICK_BIG }),
  y: linAxis({ position: 'left', min: -0.032, max: 0.323, ticks: fYTicks, dec: 1, size: 26, font: TICK_BIG })
}, { left: 27, right: 4, top: 29, bottom: 9 }, itemsF);
</script>
</body>
</html>
